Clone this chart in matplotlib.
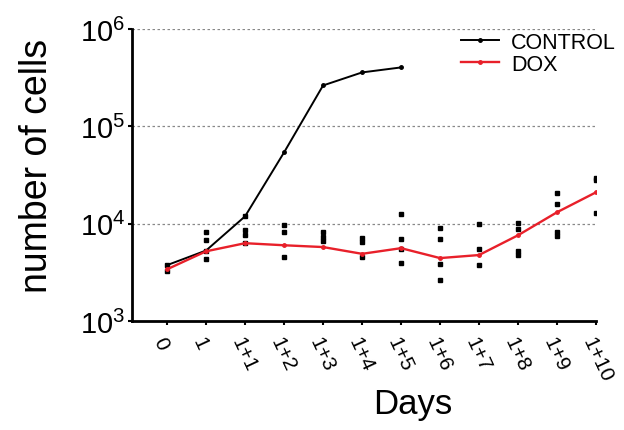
import math
import matplotlib
matplotlib.use('Agg')
import matplotlib.pyplot as plt
from matplotlib.ticker import FixedLocator, FuncFormatter, NullLocator

plt.rcParams['font.family'] = ['Liberation Sans', 'DejaVu Sans']

# data
day_labels = ['0', '1', '1+1', '1+2', '1+3', '1+4', '1+5', '1+6', '1+7', '1+8', '1+9', '1+10']
control_days = [0, 1, 2, 3, 4, 5, 6]
control_cells = [3750, 5300, 11900, 54000, 263000, 358000, 403000]
dox_days = list(range(12))
dox_cells = [3400, 5200, 6300, 6000, 5750, 4900, 5600, 4430, 4760, 7600, 13100, 21000]
# individual DOX replicates (day index, cell count)
rep_days = [0, 0,
            1, 1, 1, 1,
            2, 2, 2, 2,
            3, 3, 3,
            4, 4, 4,
            5, 5, 5,
            6, 6, 6, 6,
            7, 7, 7, 7,
            8, 8, 8,
            9, 9, 9, 9,
            10, 10, 10, 10,
            11, 11, 11]
rep_cells = [3800, 3300,
             8180, 6780, 5230, 4330,
             11900, 8570, 7620, 6310,
             9660, 8180, 4530,
             8180, 7250, 6620,
             7100, 6450, 4530,
             12500, 6930, 5470, 3930,
             8990, 6930, 3850, 2630,
             9950, 5470, 3750, 4800,
             10100, 8790, 5230,
             20600, 15800, 8180, 7450,
             29300, 28000, 12800]

fig = plt.figure(figsize=(6.24, 4.31), dpi=100)
ax = fig.add_axes([132 / 624, 1 - 322 / 431, (596 - 132) / 624, (322 - 30) / 431])

ax.set_yscale('log')
ax.set_ylim(1e3, 1e6)
ax.set_xlim(-0.9, 10.1)

# dotted grid at the decades
for v in [1e4, 1e5, 1e6]:
    ax.axhline(v, color='#888888', lw=0.9, ls=(0, (2, 2)), zorder=0)

ax.plot(rep_days, rep_cells, 's', color='black', ms=3.2, zorder=3)
ax.plot(control_days, control_cells, '-', color='black', lw=1.4, marker='o', ms=2.5,
        label='CONTROL', zorder=4)
ax.plot(dox_days, dox_cells, '-', color='#e8202a', lw=1.7, marker='o', ms=2.5,
        label='DOX', zorder=5)

ax.spines['top'].set_visible(False)
ax.spines['right'].set_visible(False)
ax.spines['left'].set_linewidth(2)
ax.spines['bottom'].set_linewidth(2)

ax.yaxis.set_major_locator(FixedLocator([1e3, 1e4, 1e5, 1e6]))
ax.yaxis.set_minor_locator(NullLocator())
ax.yaxis.set_major_formatter(FuncFormatter(lambda v, p: r'$\mathregular{10^{%d}}$' % round(math.log10(v))))
ax.tick_params(axis='y', labelsize=21, length=3, width=1.5, pad=2)

ax.set_xticks(range(len(day_labels)))
ax.set_xticklabels(day_labels, rotation=-65, ha='left', va='top', rotation_mode='anchor')
ax.tick_params(axis='x', labelsize=15, length=3, width=1.5, pad=6)

ax.set_ylabel('number of cells', fontsize=27)
ax.yaxis.set_label_coords(-0.165, 0.535)
ax.set_xlabel('Days', fontsize=25)
ax.xaxis.set_label_coords(0.606, -0.225)

ax.legend(loc='upper left', bbox_to_anchor=(452 / 624, 1 - 24 / 431), bbox_transform=fig.transFigure,
          frameon=False, fontsize=15.5, handlelength=1.8, handletextpad=0.55, labelspacing=0.05,
          borderaxespad=0)

plt.savefig('out.png', dpi=100)
